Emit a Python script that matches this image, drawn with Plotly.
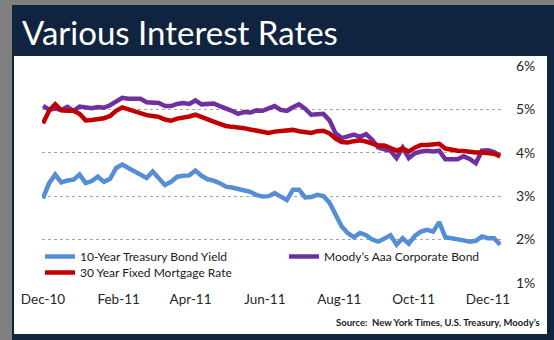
import pandas as pd
import plotly.graph_objects as go

# ---- data (sampled every 5 days from 2010-12-01) ----
dates = pd.date_range("2010-12-01", periods=76, freq="5D")

treasury_10y = [2.95, 3.30, 3.50, 3.32, 3.36, 3.38, 3.50, 3.30, 3.35, 3.45,
                3.33, 3.40, 3.65, 3.73, 3.65, 3.58, 3.50, 3.42, 3.57, 3.40,
                3.26, 3.33, 3.45, 3.47, 3.48, 3.59, 3.47, 3.39, 3.36, 3.30,
                3.22, 3.20, 3.17, 3.13, 3.10, 3.03, 2.99, 3.00, 3.07, 2.99,
                2.91, 3.15, 3.15, 2.97, 2.98, 3.03, 3.00, 2.85, 2.55, 2.30,
                2.15, 2.05, 2.15, 2.10, 2.00, 1.95, 2.02, 2.10, 1.88, 2.03,
                1.90, 2.08, 2.18, 2.22, 2.18, 2.40, 2.05, 2.03, 2.02, 1.98,
                1.95, 1.97, 2.07, 2.03, 2.03, 1.88]

moodys_aaa = [5.08, 5.00, 5.02, 4.99, 5.06, 4.97, 5.07, 5.04, 5.03, 5.06,
              5.04, 5.10, 5.19, 5.27, 5.25, 5.25, 5.25, 5.17, 5.16, 5.15,
              5.08, 5.08, 5.13, 5.15, 5.13, 5.21, 5.12, 5.12, 5.14, 5.08,
              5.03, 4.97, 4.90, 4.94, 4.93, 4.98, 4.97, 5.02, 5.08, 4.99,
              4.97, 5.05, 5.12, 5.02, 4.88, 4.89, 4.90, 4.75, 4.45, 4.34,
              4.38, 4.42, 4.37, 4.43, 4.30, 4.12, 4.08, 4.05, 3.88, 4.12,
              3.88, 3.99, 4.03, 4.05, 4.03, 4.05, 3.85, 3.85, 3.85, 3.92,
              3.86, 3.76, 4.05, 4.06, 4.02, 3.93]

mortgage_30y = [4.68, 4.97, 5.12, 4.98, 4.97, 4.97, 4.90, 4.75, 4.76, 4.77,
                4.80, 4.85, 4.97, 5.05, 5.00, 4.96, 4.92, 4.87, 4.85, 4.83,
                4.77, 4.74, 4.79, 4.81, 4.84, 4.88, 4.82, 4.78, 4.72, 4.67,
                4.62, 4.60, 4.59, 4.57, 4.54, 4.52, 4.49, 4.46, 4.49, 4.50,
                4.53, 4.53, 4.50, 4.48, 4.46, 4.50, 4.51, 4.45, 4.33, 4.25,
                4.24, 4.27, 4.29, 4.26, 4.21, 4.17, 4.17, 4.10, 4.05, 4.10,
                4.03, 4.12, 4.18, 4.18, 4.19, 4.21, 4.10, 4.07, 4.05, 4.04,
                4.02, 4.01, 4.01, 4.00, 3.98, 3.92]

x_tick_dates = ["2010-12-01", "2011-02-01", "2011-04-01", "2011-06-01",
                "2011-08-01", "2011-10-01", "2011-12-01"]
x_tick_labels = ["Dec-10", "Feb-11", "Apr-11", "Jun-11", "Aug-11", "Oct-11", "Dec-11"]
y_tick_vals = [1, 2, 3, 4, 5, 6]
y_tick_labels = ["1%", "2%", "3%", "4%", "5%", "6%"]

# ---- figure ----
W, H = 554, 340
L, R, T, B = 42, 53, 66, 57
pw, ph = W - L - R, H - T - B


def px(x):
    return (x - L) / pw


def py(y):
    return 1 - (y - T) / ph


FONT = "Lato"
LEG_FONT = dict(size=12, family=FONT, color="#1a1a1a")
fig = go.Figure()
fig.add_trace(go.Scatter(x=dates, y=treasury_10y, mode="lines",
                         name="10-Year Treasury Bond Yield", legend="legend",
                         line=dict(color="#558ED5", width=4.5)))
fig.add_trace(go.Scatter(x=dates, y=moodys_aaa, mode="lines",
                         name="Moody\u2019s Aaa Corporate Bond", legend="legend2",
                         line=dict(color="#7030A0", width=4.5)))
fig.add_trace(go.Scatter(x=dates, y=mortgage_30y, mode="lines",
                         name="30 Year Fixed Mortgage Rate", legend="legend3",
                         line=dict(color="#C00000", width=4.5)))

shapes = [
    dict(type="rect", xref="paper", yref="paper", layer="below",
         x0=px(12), x1=px(556), y0=py(342), y1=py(5),
         fillcolor="#10243F", line=dict(width=0)),
    dict(type="rect", xref="paper", yref="paper", layer="below",
         x0=px(14), x1=px(547), y0=py(334), y1=py(56),
         fillcolor="#FFFFFF", line=dict(width=0)),
]


def leg(x, y):
    return dict(orientation="v", x=px(x), y=py(y), xanchor="left", yanchor="top",
                bgcolor="rgba(0,0,0,0)", itemwidth=30, tracegroupgap=0,
                font=LEG_FONT)


fig.update_layout(
    width=W, height=H,
    margin=dict(l=L, r=R, t=T, b=B, pad=0),
    paper_bgcolor="#7F7F7F",
    plot_bgcolor="rgba(0,0,0,0)",
    font=dict(family=FONT, color="#262626"),
    shapes=shapes,
    showlegend=True,
    legend=leg(40, 242),
    legend2=leg(284, 242),
    legend3=leg(40, 258),
    xaxis=dict(type="date", range=["2010-11-30 04:00", "2011-12-11 16:00"],
               tickvals=x_tick_dates, ticktext=x_tick_labels,
               showgrid=False, zeroline=False, showline=False, ticks="",
               tickfont=dict(size=13.5, family=FONT, color="#262626"),
               ticklabelstandoff=6),
    yaxis=dict(range=[0.995, 6.005], side="right", tickvals=y_tick_vals,
               ticktext=y_tick_labels, showgrid=True, gridcolor="#A6A6A6",
               griddash="dot", gridwidth=1, zeroline=False, showline=False,
               ticks="", tickfont=dict(size=14, family=FONT, color="#262626"),
               ticklabelstandoff=14),
    annotations=[
        dict(text="Various Interest Rates", xref="paper", yref="paper",
             x=px(20), y=py(32), xanchor="left", yanchor="middle",
             showarrow=False, font=dict(size=33, family=FONT, color="#FFFFFF")),
        dict(text="<b>Source:  New York Times, U.S. Treasury, Moody\u2019s</b>",
             xref="paper", yref="paper", x=px(542), y=py(322),
             xanchor="right", yanchor="middle", showarrow=False,
             font=dict(size=9.5, family=FONT, color="#1a1a1a")),
    ],
)

fig.write_html("out.html")
